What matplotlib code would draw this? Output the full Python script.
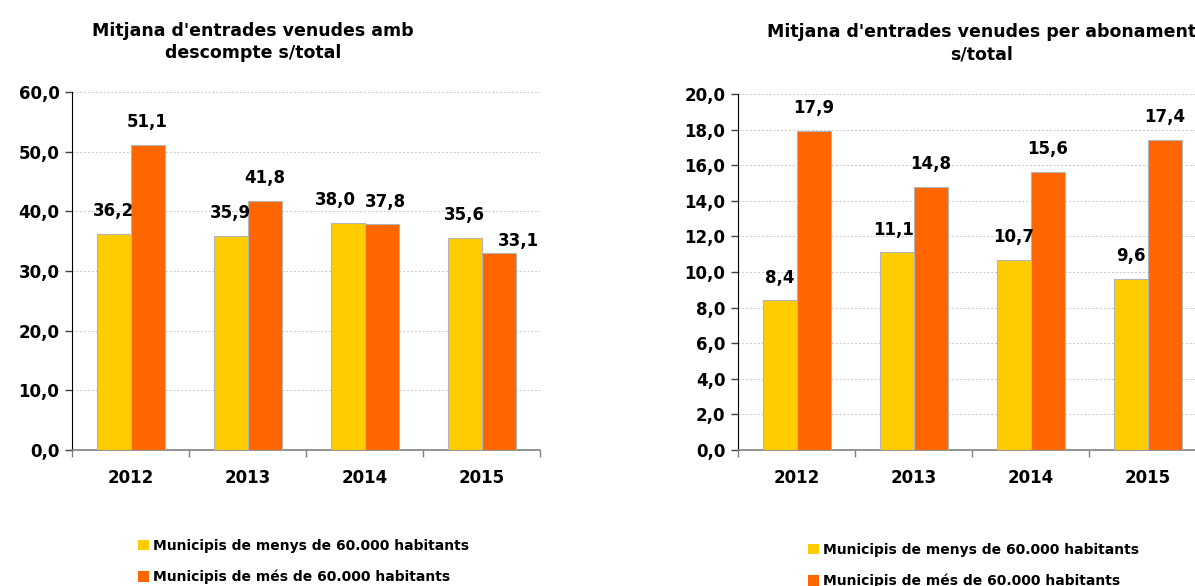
import matplotlib
matplotlib.use("Agg")
import matplotlib.pyplot as plt
from matplotlib.patches import Patch
import numpy as np

# data
years = ['2012', '2013', '2014', '2015']
series_names = ['Municipis de menys de 60.000 habitants',
                'Municipis de més de 60.000 habitants']
descompte_menys = [36.2, 35.9, 38.0, 35.6]
descompte_mes = [51.1, 41.8, 37.8, 33.1]
abonament_menys = [8.4, 11.1, 10.7, 9.6]
abonament_mes = [17.9, 14.8, 15.6, 17.4]

title_left = "Mitjana d'entrades venudes amb\ndescompte s/total"
title_right = "Mitjana d'entrades venudes per abonament\ns/total"

colors = ['#FFCC00', '#FF6600']
edge = '#B4B4B4'

plt.rcParams['font.family'] = 'DejaVu Sans'
plt.rcParams['font.weight'] = 'bold'

fig = plt.figure(figsize=(11.95, 5.86), dpi=100)
W, H = 1195, 586


def px_axes(x0, x1, ytop, ybot):
    return fig.add_axes([x0 / W, (H - ybot) / H, (x1 - x0) / W, (ybot - ytop) / H])


def fmt(v):
    return f'{v:.1f}'.replace('.', ',')


def draw(ax, a, b, ymax, step, nudges):
    x = np.arange(len(years))
    w = 34 / 117
    bars_a = ax.bar(x - w / 2, a, w, color=colors[0], edgecolor=edge, linewidth=0.8, zorder=3)
    bars_b = ax.bar(x + w / 2, b, w, color=colors[1], edgecolor=edge, linewidth=0.8, zorder=3)
    for s, bars in enumerate([bars_a, bars_b]):
        for i, r in enumerate(bars):
            dx, dy = nudges.get((i, s), (0, 0))
            ax.annotate(fmt(r.get_height()),
                        (r.get_x() + r.get_width() / 2, r.get_height()),
                        xytext=(dx / 1.389, 16.5 + dy / 1.389), textcoords='offset points',
                        ha='center', va='center', fontsize=12, fontweight='bold')
    ax.set_xlim(-0.5, len(years) - 0.5)
    ax.set_ylim(0, ymax)
    ticks = np.arange(0, ymax + step / 2, step)
    ax.set_yticks(ticks)
    ax.set_yticklabels([fmt(t) for t in ticks], fontsize=12, fontweight='bold')
    ax.set_xticks(x)
    ax.set_xticklabels(years, fontsize=12, fontweight='bold')
    ax.set_xticks(np.arange(-0.5, len(years)), minor=True)
    ax.tick_params(axis='x', which='major', length=0, pad=14)
    ax.tick_params(axis='x', which='minor', length=5, color='#808080', width=1)
    ax.tick_params(axis='y', length=5, width=1, color='#404040', pad=4)
    ax.yaxis.grid(True, linestyle=(0, (2, 2)), color='#C8C8C8', linewidth=0.7, zorder=0)
    ax.set_axisbelow(True)
    for sp in ['top', 'right']:
        ax.spines[sp].set_visible(False)
    ax.spines['left'].set_color('black')
    ax.spines['bottom'].set_color('#808080')
    ax.spines['bottom'].set_linewidth(1.2)


ax1 = px_axes(72, 540, 92, 450)
draw(ax1, descompte_menys, descompte_mes, 60, 10,
     {(2, 0): (-12, 0), (2, 1): (4, 0), (3, 1): (20, -11)})

ax2 = px_axes(738, 1206, 94, 450)
draw(ax2, abonament_menys, abonament_mes, 20, 2, {(1, 0): (-3, 0)})

fig.text(253 / W, 1 - 42 / H, title_left, ha='center', va='center',
         fontsize=12.5, fontweight='bold', linespacing=1.35)
fig.text(982 / W, 1 - 43 / H, title_right, ha='center', va='center',
         fontsize=12.5, fontweight='bold', linespacing=1.35)

handles = [Patch(facecolor=c, edgecolor='none') for c in colors]
for lx, ly in [(138, 539), (808, 543)]:
    fig.legend(handles, series_names, loc='upper left',
               bbox_to_anchor=(lx / W, 1 - ly / H), frameon=False,
               prop={'size': 10, 'weight': 'bold'}, handlelength=0.8,
               handleheight=0.8, handletextpad=0.25, labelspacing=1.2,
               borderpad=0, borderaxespad=0)

fig.savefig('out.png', dpi=100)
